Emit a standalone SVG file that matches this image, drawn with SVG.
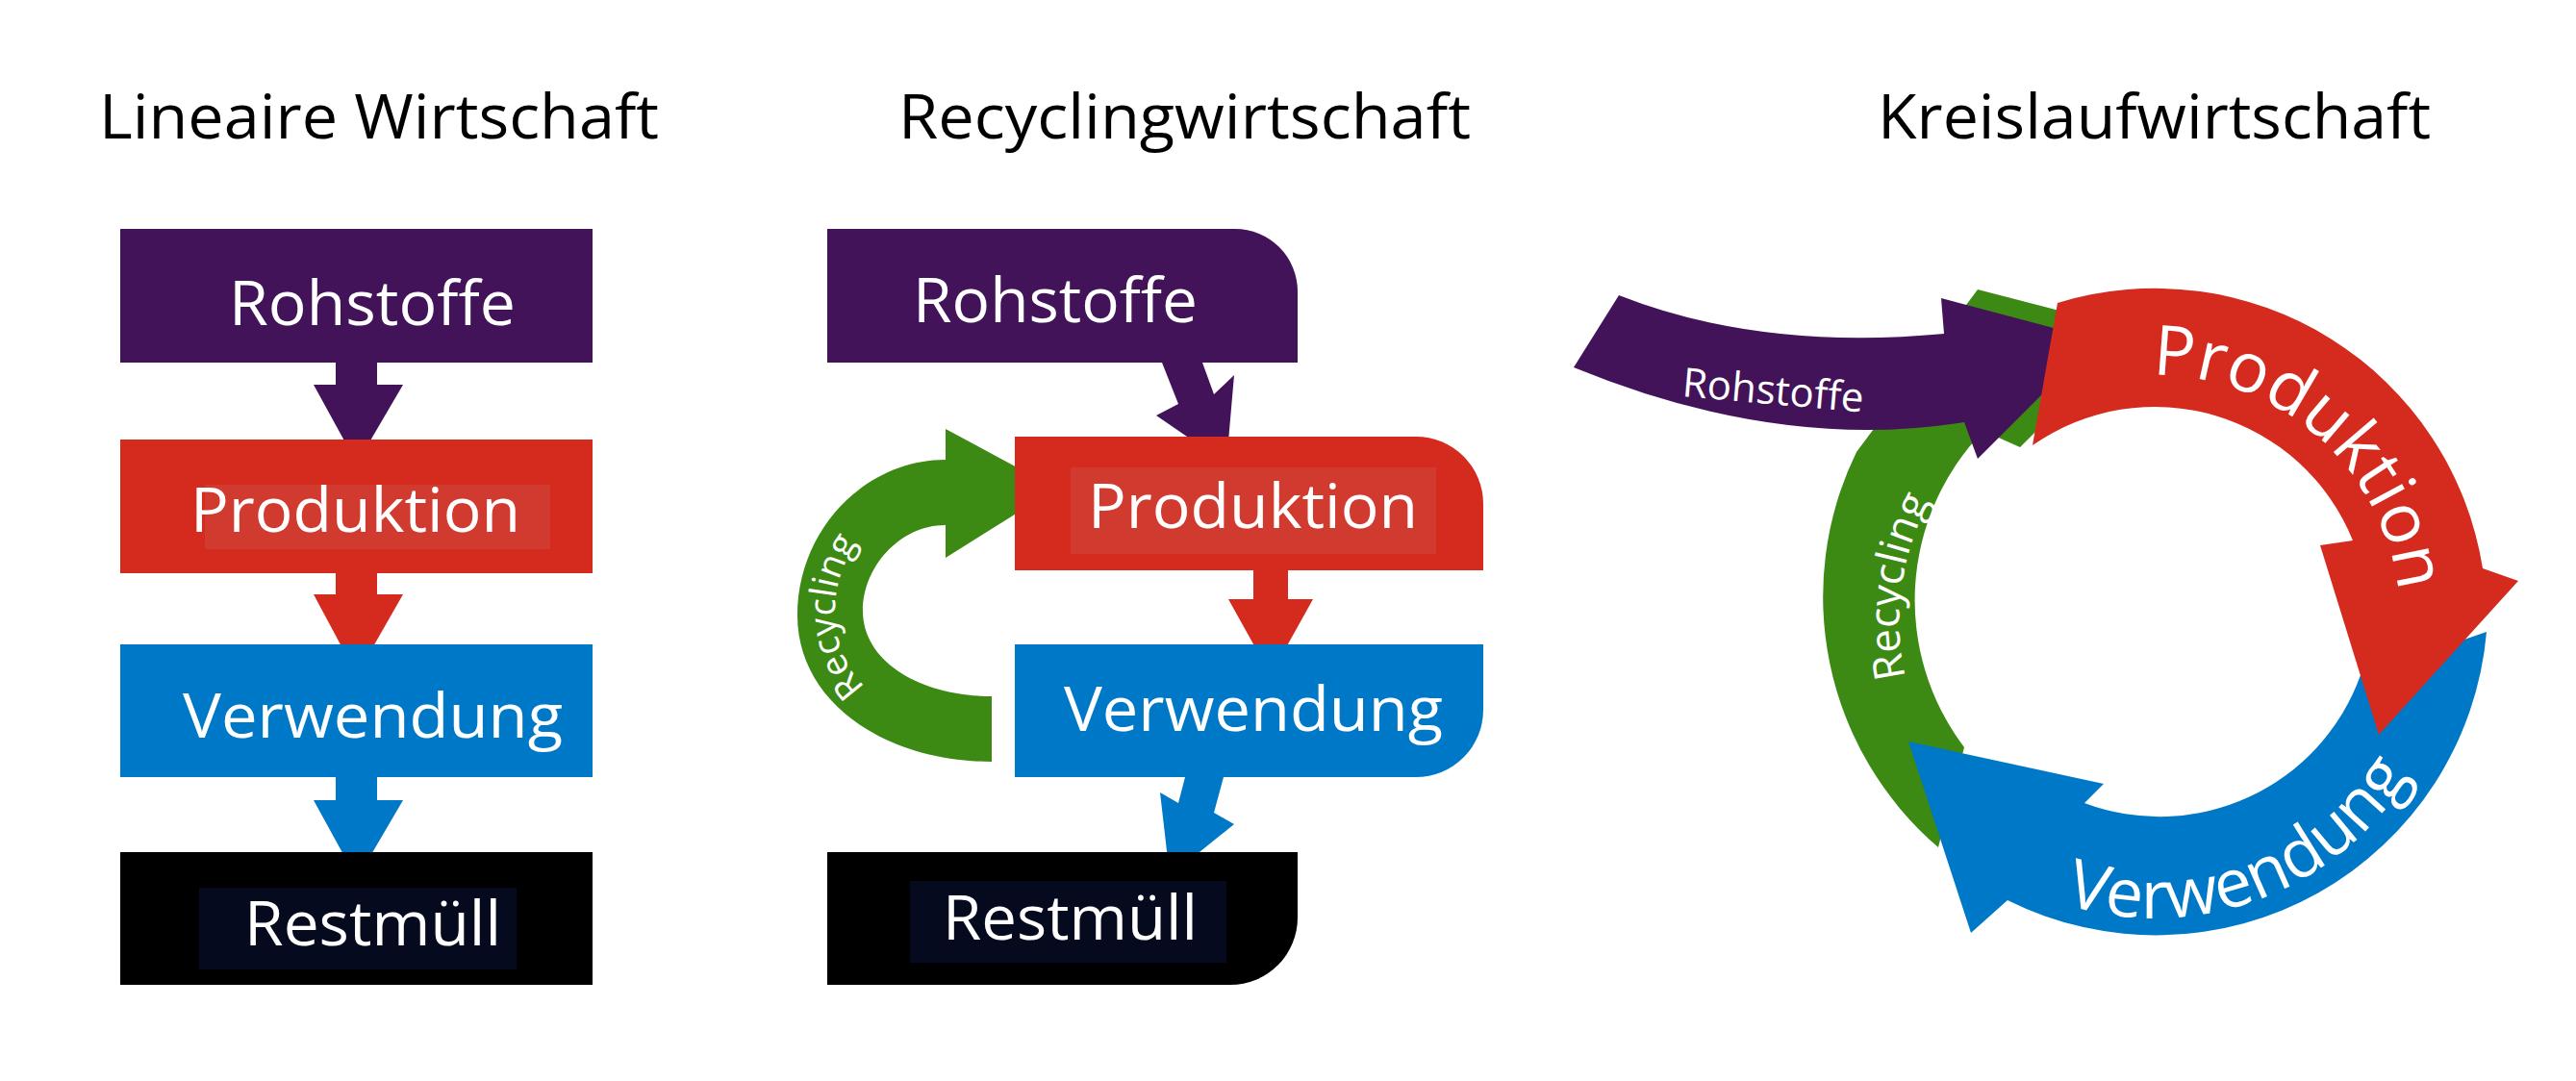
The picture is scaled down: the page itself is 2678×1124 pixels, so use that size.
<svg xmlns="http://www.w3.org/2000/svg" width="2678" height="1124" viewBox="0 0 2678 1124">
<style>
.t{font-family:"Open Sans","Liberation Sans",sans-serif;fill:#fff}
.h{font-family:"Open Sans","Liberation Sans",sans-serif;fill:#000;font-size:64px}
.pu{fill:#43135a}.re{fill:#d52b1e}.bl{fill:#0078c8}.bk{fill:#000}.gr{fill:#3c8a13}
</style>
<defs>
<path id="pProd" d="M2231,390 A255,255 0 0 1 2494,622"/>
<path id="pVer" d="M2119,930 A310,310 0 0 0 2519,780"/>
<path id="pRecR" d="M1990,735 A262,262 0 0 1 2023,494"/>
<path id="pRecM" d="M1000,752 C915,748 868,700 868,636 C868,572 915,522 985,514"/>
</defs>
<rect width="2678" height="1124" fill="#fff"/>
<text class="h" x="103" y="144" textLength="582" lengthAdjust="spacingAndGlyphs">Lineaire Wirtschaft</text>
<text class="h" x="934" y="144" textLength="595" lengthAdjust="spacingAndGlyphs">Recyclingwirtschaft</text>
<text class="h" x="1952" y="144" textLength="575" lengthAdjust="spacingAndGlyphs">Kreislaufwirtschaft</text>

<g id="connectors">
<polygon class="pu" points="349,377 392,377 392,400 419,400 371,482 326,400 349,400"/>
<polygon class="re" points="349,596 392,596 392,618 419,618 371,702 326,618 349,618"/>
<polygon class="bl" points="349,808 392,808 392,832 419,832 371,914 326,832 349,832"/>
<polygon class="pu" points="1208,377 1250,377 1262,410 1283,390 1275,482 1202,432 1225,420"/>
<polygon class="re" points="1303,593 1339,593 1339,623 1365,623 1321,702 1277,623 1303,623"/>
<polygon class="bl" points="1232,808 1272,808 1262,845 1283,857 1216,911 1206,824 1225,835"/>
<path id="recyM" class="gr" d="M1031,792 C920,792 829,730 829,640 C829,550 900,478 983,478 L983,446 L1098,508 L983,580 L983,546 C935,546 897,590 897,635 C897,690 960,724 1031,724 Z"/>
</g>
<text class="t" font-size="38"><textPath href="#pRecM" startOffset="50%" text-anchor="middle">Recycling</textPath></text>

<g id="lin-rohstoffe"><rect class="pu" x="125" y="238" width="491" height="139"/><text class="t" x="238" y="338" font-size="64" textLength="298" lengthAdjust="spacingAndGlyphs">Rohstoffe</text></g>
<g id="lin-produktion"><rect class="re" x="125" y="457" width="491" height="139"/><rect x="213" y="504" width="359" height="67" fill="#d13a2e"/><text class="t" x="198" y="553" font-size="64" textLength="343" lengthAdjust="spacingAndGlyphs">Produktion</text></g>
<g id="lin-verwendung"><rect class="bl" x="125" y="670" width="491" height="138"/><text class="t" x="190" y="767" font-size="64" textLength="395" lengthAdjust="spacingAndGlyphs">Verwendung</text></g>
<g id="lin-restmuell"><rect class="bk" x="125" y="886" width="491" height="138"/><rect x="207" y="923" width="330" height="85" fill="#050a1f"/><text class="t" x="254" y="983" font-size="64" textLength="267" lengthAdjust="spacingAndGlyphs">Restmüll</text></g>

<g id="rec-rohstoffe"><path class="pu" d="M860,238 H1284 A65,65 0 0 1 1349,303 V377 H860 Z"/><text class="t" x="949" y="335" font-size="64" textLength="296" lengthAdjust="spacingAndGlyphs">Rohstoffe</text></g>
<g id="rec-produktion"><path class="re" d="M1055,454 H1472 A70,70 0 0 1 1542,524 V593 H1055 Z"/><rect x="1113" y="486" width="380" height="90" fill="#d13a2e"/><text class="t" x="1131" y="549" font-size="64" textLength="343" lengthAdjust="spacingAndGlyphs">Produktion</text></g>
<g id="rec-verwendung"><path class="bl" d="M1055,670 H1542 V738 A70,70 0 0 1 1472,808 H1055 Z"/><text class="t" x="1106" y="760" font-size="64" textLength="394" lengthAdjust="spacingAndGlyphs">Verwendung</text></g>
<g id="rec-restmuell"><path class="bk" d="M860,886 H1349 V954 A70,70 0 0 1 1279,1024 H860 Z"/><rect x="946" y="916" width="329" height="85" fill="#050a1f"/><text class="t" x="980" y="977" font-size="64" textLength="265" lengthAdjust="spacingAndGlyphs">Restmüll</text></g>

<g id="kreis-recycling"><path class="gr" d="M2015,881 A343,343 0 0 1 1930,470 L2056,301 L2222,344 L2100,465 L2062,448 A253,253 0 0 0 2042,777 Z"/>
<text class="t" font-size="44"><textPath href="#pRecR" startOffset="50%" text-anchor="middle">Recycling</textPath></text></g>
<g id="kreis-rohstoffe"><path class="pu" d="M1683,307 Q1830,365 2021,347 L2018,310 L2180,353 L2056,477 L2042,439 Q1850,470 1636,382 Z"/>
<text class="t" x="1748" y="412" font-size="42" transform="rotate(5 1748 412)">Rohstoffe</text></g>
<g id="kreis-verwendung"><path class="bl" d="M2585,657 A345,345 0 0 1 2087,936 L2049,970 L1984,771 L2187,815 L2167,835 A222,222 0 0 0 2454,702 Z"/>
<text class="t" font-size="70"><textPath href="#pVer" startOffset="50%" text-anchor="middle">Verwendung</textPath></text></g>
<g id="kreis-produktion"><path class="re" d="M2139,315 A345,345 0 0 1 2581,591 L2618,604 L2473,764 L2412,567 L2446,562 A222,222 0 0 0 2113,463 Z"/>
<text class="t" font-size="72"><textPath href="#pProd" startOffset="50%" text-anchor="middle">Produktion</textPath></text></g>
</svg>
